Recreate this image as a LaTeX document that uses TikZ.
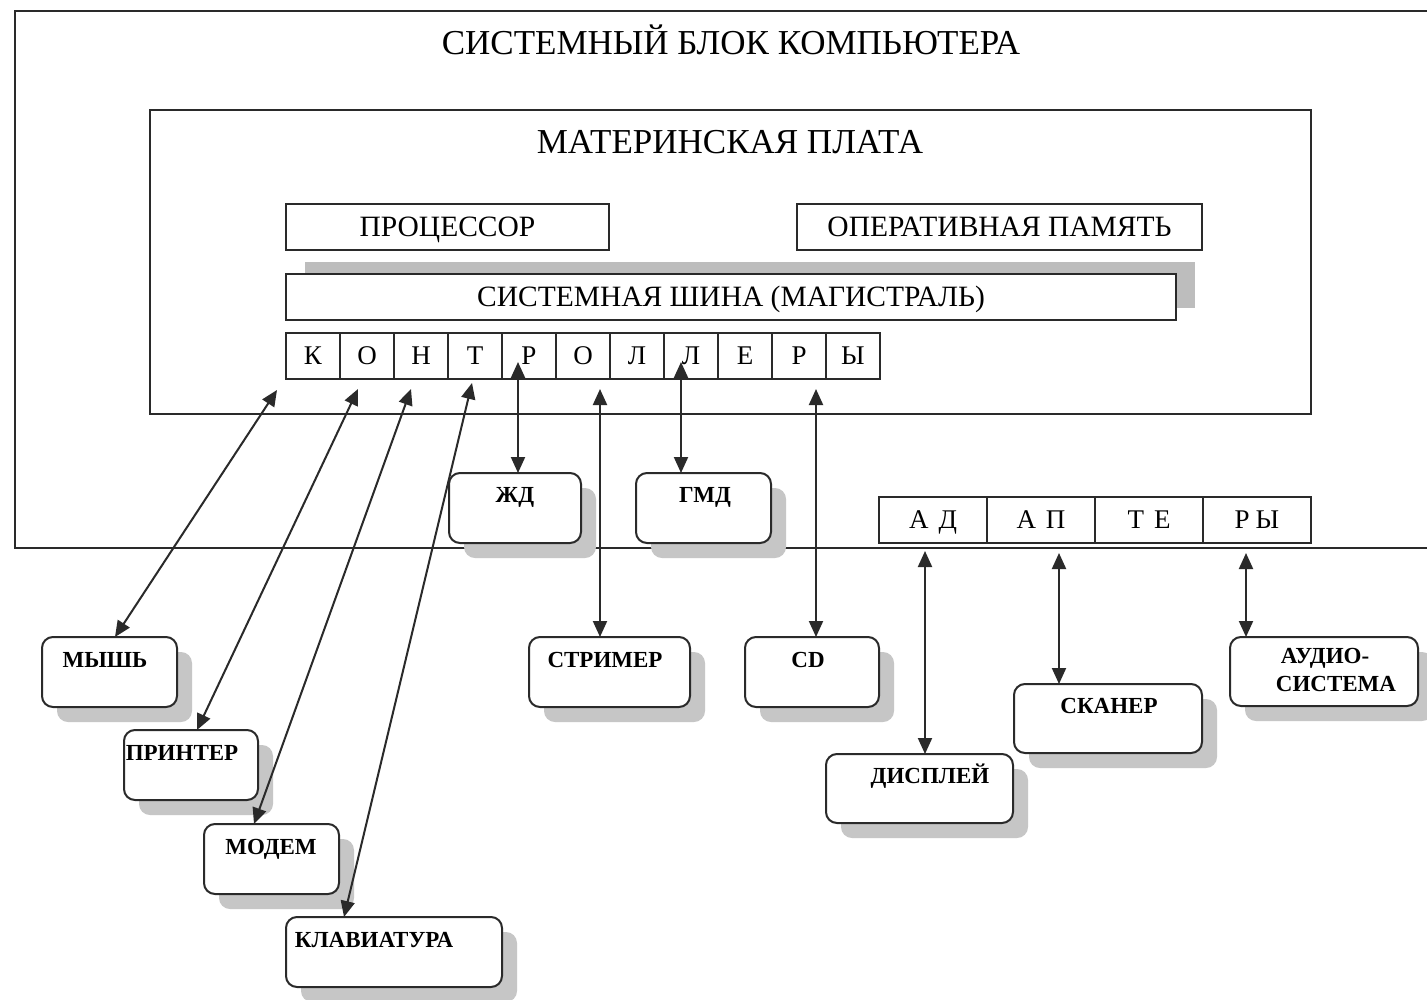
\documentclass[tikz,border=0pt]{standalone}
\usepackage{fontspec}
\setmainfont{Liberation Serif}
\usetikzlibrary{arrows.meta,shadows}
\definecolor{ln}{HTML}{2A2A2A}
\definecolor{shd}{HTML}{C6C6C6}
\definecolor{bshd}{HTML}{BDBDBD}
\begin{document}
\begin{tikzpicture}[x=1pt,y=-1pt,
  frame/.style={draw=ln, line width=2pt},
  sqbox/.style={draw=ln, line width=2pt, fill=white, inner sep=0pt, outer sep=0pt},
  rbox/.style={draw=ln, line width=2pt, fill=white, rounded corners=11pt, inner sep=0pt, outer sep=0pt,
    drop shadow={shadow xshift=15pt, shadow yshift=-15pt, fill=shd, opacity=1}},
  big/.style={font=\fontsize{35}{40}\selectfont, inner sep=0pt, text height=23.2pt, text depth=0pt},
  mid/.style={font=\fontsize{29.5}{34}\selectfont, text height=19.5pt, text depth=0pt},
  cell/.style={font=\fontsize{27}{30}\selectfont, text height=17.9pt, text depth=0pt},
  lbl/.style={font=\fontsize{23}{27}\selectfont\bfseries, inner sep=0pt, text height=15.5pt, text depth=0pt},
  dbl/.style={{Triangle[length=16pt,width=14pt]}-{Triangle[length=16pt,width=14pt]}, line width=2pt, draw=ln}
]
\useasboundingbox[fill=white] (0,0) rectangle (1427,999);

% system block frame
\draw[frame] (1427,11) -- (15,11) -- (15,548) -- (1427,548);
\node[big] (title) at (731,43) {СИСТЕМНЫЙ БЛОК КОМПЬЮТЕРА};

% motherboard
\node[sqbox, minimum width=1161pt, minimum height=304pt] (mb) at (730.5,262) {};
\node[big] (mbt) at (730,142) {МАТЕРИНСКАЯ ПЛАТА};

\node[sqbox, mid, minimum width=323pt, minimum height=46pt] (cpu) at (447.5,227) {ПРОЦЕССОР};
\node[sqbox, mid, minimum width=405pt, minimum height=46pt] (ram) at (999.5,227) {ОПЕРАТИВНАЯ ПАМЯТЬ};
\node[sqbox, mid, minimum width=890pt, minimum height=46pt,
  drop shadow={shadow xshift=19pt, shadow yshift=12pt, fill=bshd, opacity=1}] (bus) at (731,297) {СИСТЕМНАЯ ШИНА (МАГИСТРАЛЬ)};

\foreach \l [count=\i] in {К,О,Н,Т,Р,О,Л,Л,Е,Р,Ы}
  \node[sqbox, cell, minimum width=54pt, minimum height=46pt] (c\i) at ({286+54*(\i-0.5)},356) {\l};

\foreach \t [count=\i] in {А\hspace{10pt}Д,А\hspace{10pt}П,Т\hspace{10pt}Е,Р\hspace{6pt}Ы}
  \node[sqbox, cell, minimum width=108pt, minimum height=46pt] (a\i) at ({879+108*(\i-0.5)},520) {\t};

% devices
\node[rbox, minimum width=132pt, minimum height=70pt] (zd) at (515,508) {};
\node[lbl] at (515,495) {ЖД};
\node[rbox, minimum width=135pt, minimum height=70pt] (gmd) at (703.5,508) {};
\node[lbl] at (705,495) {ГМД};
\node[rbox, minimum width=135pt, minimum height=70pt] (mouse) at (109.5,672) {};
\node[lbl] at (105,660) {МЫШЬ};
\node[rbox, minimum width=134pt, minimum height=70pt] (printer) at (191,765) {};
\node[lbl] at (182,753) {ПРИНТЕР};
\node[rbox, minimum width=135pt, minimum height=70pt] (modem) at (271.5,859) {};
\node[lbl] at (271,847) {МОДЕМ};
\node[rbox, minimum width=216pt, minimum height=70pt] (kbd) at (394,952) {};
\node[lbl] at (374,940) {КЛАВИАТУРА};
\node[rbox, minimum width=161pt, minimum height=70pt] (strm) at (609.5,672) {};
\node[lbl] at (605,660) {СТРИМЕР};
\node[rbox, minimum width=134pt, minimum height=70pt] (cd) at (812,672) {};
\node[lbl] at (808,660) {CD};
\node[rbox, minimum width=187pt, minimum height=69pt] (disp) at (919.5,788.5) {};
\node[lbl] at (930,776) {ДИСПЛЕЙ};
\node[rbox, minimum width=188pt, minimum height=69pt] (scan) at (1108,718.5) {};
\node[lbl] at (1109,706) {СКАНЕР};
\node[rbox, minimum width=188pt, minimum height=69pt] (audio) at (1324,671.5) {};
\node[lbl] (au1) at (1325,656) {АУДИО-};
\node[lbl] (au2) at (1336,684) {СИСТЕМА};

% connector free ends
\coordinate (pm) at (277,390);
\coordinate (pp) at (358,389);
\coordinate (pmo) at (411,389);
\coordinate (pk) at (472,383);
\coordinate (pzd) at (518,362);
\coordinate (pgmd) at (681,362);
\coordinate (pst) at (600,389);
\coordinate (pcd) at (816,389);
\coordinate (pdi) at (925,551);
\coordinate (psc) at (1059,553);
\coordinate (pau) at (1246,553);

\draw[dbl] (pm) -- ([xshift=73pt]mouse.north west);
\draw[dbl] (pp) -- ([xshift=73pt]printer.north west);
\draw[dbl] (pmo) -- ([xshift=50pt]modem.north west);
\draw[dbl] (pk) -- ([xshift=58pt]kbd.north west);
\draw[dbl] (pzd) -- ([xshift=69pt]zd.north west);
\draw[dbl] (pgmd) -- ([xshift=45pt]gmd.north west);
\draw[dbl] (pst) -- ([xshift=71pt]strm.north west);
\draw[dbl] (pcd) -- ([xshift=71pt]cd.north west);
\draw[dbl] (pdi) -- ([xshift=99pt]disp.north west);
\draw[dbl] (psc) -- ([xshift=45pt]scan.north west);
\draw[dbl] (pau) -- ([xshift=16pt]audio.north west);
\end{tikzpicture}
\end{document}
